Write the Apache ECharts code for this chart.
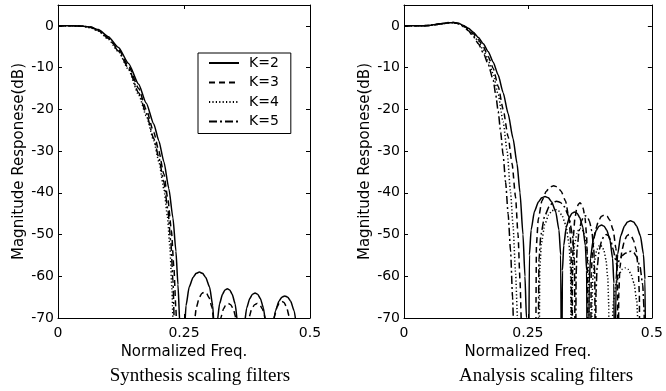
<!DOCTYPE html>
<html>
<head>
<meta charset="utf-8">
<script src="https://cdn.jsdelivr.net/npm/echarts@6/dist/echarts.min.js"></script>
<style>
html, body { margin: 0; padding: 0; background: #fff; }
#chart { width: 666px; height: 391px; }
</style>
</head>
<body>
<div id="chart"></div>
<script>
// 图例名称
var names = ['K=2', 'K=3', 'K=4', 'K=5'];
var xTicks = [0, 0.25, 0.5];

// 左图 Synthesis scaling filters, [频率, dB]
var synK2 = [[0,0],[0.03,0],[0.05,-0.1],[0.065,-0.3],[0.08,-0.9],[0.1,-2.6],[0.12,-5.2],[0.14,-9],[0.16,-14],[0.175,-18.5],[0.19,-23.5],[0.2,-27.5],[0.21,-32.5],[0.22,-39],[0.228,-46],[0.234,-54],[0.238,-62],[0.242,-72],[0.249,-90],
    [0.2509,-73],[0.254,-67],[0.2603,-62.6],[0.2679,-60.3],[0.2742,-59.3],[0.2805,-59],[0.2868,-59.3],[0.2931,-60.3],[0.3007,-62.6],[0.307,-67],[0.3101,-73],[0.312,-90],
    [0.3134,-77],[0.3158,-71],[0.3206,-66.6],[0.3264,-64.3],[0.3312,-63.3],[0.336,-63],[0.3408,-63.3],[0.3456,-64.3],[0.3514,-66.6],[0.3562,-71],[0.3586,-77],[0.36,-90],
    [0.365,-90],[0.3666,-78],[0.3692,-72],[0.3744,-67.6],[0.3806,-65.3],[0.3858,-64.3],[0.391,-64],[0.3962,-64.3],[0.4014,-65.3],[0.4076,-67.6],[0.4128,-72],[0.4154,-78],[0.417,-90],
    [0.421,-90],[0.4227,-78.7],[0.4256,-72.7],[0.4314,-68.3],[0.4384,-66],[0.4442,-65],[0.45,-64.7],[0.4558,-65],[0.4616,-66],[0.4686,-68.3],[0.4744,-72.7],[0.4773,-78.7],[0.479,-90],[0.5,-90]];
var synK3 = [[0,0],[0.03,0],[0.05,-0.1],[0.065,-0.4],[0.08,-1.1],[0.1,-2.9],[0.12,-5.6],[0.14,-9.6],[0.16,-15],[0.175,-20],[0.19,-25.5],[0.2,-30],[0.21,-35.5],[0.218,-41.5],[0.225,-49],[0.23,-58],[0.234,-68],[0.237,-80],[0.24,-90],
    [0.266,-90],[0.2674,-77.8],[0.2698,-71.8],[0.2746,-67.4],[0.2804,-65.1],[0.2852,-64.1],[0.29,-63.8],[0.2948,-64.1],[0.2996,-65.1],[0.3054,-67.4],[0.3102,-71.8],[0.3126,-77.8],[0.314,-90],
    [0.3154,-80.5],[0.3178,-74.5],[0.3226,-70.1],[0.3284,-67.8],[0.3332,-66.8],[0.338,-66.5],[0.3428,-66.8],[0.3476,-67.8],[0.3534,-70.1],[0.3582,-74.5],[0.3606,-80.5],[0.362,-90],
    [0.369,-90],[0.3706,-80.5],[0.3732,-74.5],[0.3784,-70.1],[0.3846,-67.8],[0.3898,-66.8],[0.395,-66.5],[0.4002,-66.8],[0.4054,-67.8],[0.4116,-70.1],[0.4168,-74.5],[0.4194,-80.5],[0.421,-90],
    [0.4224,-80],[0.4247,-74],[0.4293,-69.6],[0.4348,-67.3],[0.4394,-66.3],[0.444,-66],[0.4486,-66.3],[0.4532,-67.3],[0.4587,-69.6],[0.4633,-74],[0.4656,-80],[0.467,-90],[0.5,-90]];
var synK4 = [[0,0],[0.03,0],[0.05,-0.1],[0.065,-0.5],[0.08,-1.3],[0.1,-3.2],[0.12,-6.2],[0.14,-10.5],[0.16,-16.5],[0.175,-21.5],[0.19,-27.5],[0.2,-32.5],[0.21,-39],[0.217,-45.5],[0.222,-53],[0.226,-63],[0.229,-74],[0.232,-90],[0.5,-90]];
var synK5 = [[0,0],[0.03,0],[0.05,-0.1],[0.065,-0.3],[0.08,-1.1],[0.1,-3],[0.12,-6],[0.14,-10.2],[0.16,-16],[0.175,-21],[0.19,-27],[0.2,-31.5],[0.21,-37.5],[0.218,-44],[0.224,-52],[0.228,-61],[0.231,-72],[0.234,-90],[0.5,-90]];

// 右图 Analysis scaling filters
var anaK2 = [[0,0],[0.03,0],[0.05,0.1],[0.07,0.4],[0.09,0.75],[0.1,0.8],[0.11,0.6],[0.12,0.1],[0.13,-0.6],[0.14,-1.5],[0.15,-2.8],[0.16,-4.3],[0.17,-6.2],[0.18,-8.7],[0.19,-11.8],[0.2,-16],[0.21,-21],[0.22,-27],[0.228,-33],[0.234,-40],[0.24,-50],[0.244,-60],[0.247,-70],[0.251,-90],
    [0.253,-54.9],[0.2564,-48.9],[0.2631,-44.5],[0.2711,-42.2],[0.2778,-41.2],[0.2845,-40.9],[0.2912,-41.2],[0.2979,-42.2],[0.3059,-44.5],[0.3126,-48.9],[0.316,-54.9],[0.318,-90],
    [0.3196,-58.6],[0.3222,-52.6],[0.3274,-48.2],[0.3336,-45.9],[0.3388,-44.9],[0.344,-44.6],[0.3492,-44.9],[0.3544,-45.9],[0.3606,-48.2],[0.3658,-52.6],[0.3684,-58.6],[0.37,-90],
    [0.372,-90],[0.3736,-61.7],[0.3762,-55.7],[0.3815,-51.3],[0.3879,-49],[0.3932,-48],[0.3985,-47.7],[0.4038,-48],[0.4091,-49],[0.4155,-51.3],[0.4208,-55.7],[0.4234,-61.7],[0.425,-90],
    [0.426,-90],[0.4279,-60.7],[0.431,-54.7],[0.4372,-50.3],[0.4446,-48],[0.4508,-47],[0.457,-46.7],[0.4632,-47],[0.4694,-48],[0.4768,-50.3],[0.483,-54.7],[0.4861,-60.7],[0.488,-90],[0.5,-90]];
var anaK3 = [[0,0],[0.03,0],[0.05,0.1],[0.07,0.4],[0.09,0.75],[0.1,0.8],[0.11,0.55],[0.12,0],[0.13,-0.8],[0.14,-1.9],[0.15,-3.3],[0.16,-5],[0.17,-7.4],[0.18,-10.2],[0.19,-14.5],[0.2,-20],[0.21,-26.5],[0.218,-33],[0.225,-41],[0.23,-50],[0.234,-61],[0.237,-72],[0.24,-90],
    [0.265,-90],[0.2672,-52.3],[0.2709,-46.3],[0.2783,-41.9],[0.2872,-39.6],[0.2946,-38.6],[0.302,-38.3],[0.3094,-38.6],[0.3168,-39.6],[0.3257,-41.9],[0.3331,-46.3],[0.3368,-52.3],[0.339,-90],
    [0.34,-56.4],[0.3416,-50.4],[0.3448,-46],[0.3486,-43.7],[0.3518,-42.7],[0.355,-42.4],[0.3582,-42.7],[0.3614,-43.7],[0.3652,-46],[0.3684,-50.4],[0.37,-56.4],[0.371,-90],
    [0.376,-90],[0.3777,-59.3],[0.3805,-53.3],[0.3861,-48.9],[0.3928,-46.6],[0.3984,-45.6],[0.404,-45.3],[0.4096,-45.6],[0.4152,-46.6],[0.4219,-48.9],[0.4275,-53.3],[0.4303,-59.3],[0.432,-90],
    [0.4333,-64],[0.4355,-58],[0.4399,-53.6],[0.4452,-51.3],[0.4496,-50.3],[0.454,-50],[0.4584,-50.3],[0.4628,-51.3],[0.4681,-53.6],[0.4725,-58],[0.4747,-64],[0.476,-90],[0.5,-90]];
var anaK4 = [[0,0],[0.03,0],[0.05,0.1],[0.07,0.4],[0.09,0.7],[0.1,0.75],[0.11,0.5],[0.12,-0.1],[0.13,-1],[0.14,-2.2],[0.15,-3.8],[0.16,-5.8],[0.17,-8.4],[0.18,-11.5],[0.19,-16.5],[0.2,-23],[0.208,-30],[0.215,-40],[0.22,-48],[0.225,-59],[0.229,-70],[0.232,-85],[0.234,-90],
    [0.272,-90],[0.274,-58],[0.2773,-52],[0.2839,-47.6],[0.2918,-45.3],[0.2984,-44.3],[0.305,-44],[0.3116,-44.3],[0.3182,-45.3],[0.3261,-47.6],[0.3327,-52],[0.336,-58],[0.338,-90],
    [0.3391,-62.5],[0.3409,-56.5],[0.3445,-52.1],[0.3488,-49.8],[0.3524,-48.8],[0.356,-48.5],[0.3596,-48.8],[0.3632,-49.8],[0.3675,-52.1],[0.3711,-56.5],[0.3729,-62.5],[0.374,-90],
    [0.378,-90],[0.3791,-66.5],[0.3809,-60.5],[0.3845,-56.1],[0.3888,-53.8],[0.3924,-52.8],[0.396,-52.5],[0.3996,-52.8],[0.4032,-53.8],[0.4075,-56.1],[0.4111,-60.5],[0.4129,-66.5],[0.414,-90],
    [0.418,-90],[0.4197,-72],[0.4225,-66],[0.4281,-61.6],[0.4348,-59.3],[0.4404,-58.3],[0.446,-58],[0.4516,-58.3],[0.4572,-59.3],[0.4639,-61.6],[0.4695,-66],[0.4723,-72],[0.474,-90],[0.5,-90]];
var anaK5 = [[0,0],[0.03,0],[0.05,0.1],[0.07,0.5],[0.09,0.8],[0.1,0.8],[0.11,0.5],[0.12,-0.2],[0.13,-1.2],[0.14,-2.6],[0.15,-4.3],[0.16,-6.5],[0.17,-9.3],[0.18,-13],[0.185,-16.5],[0.19,-20.5],[0.195,-25.5],[0.2,-31],[0.205,-37.5],[0.21,-45],[0.215,-54],[0.219,-65],[0.222,-76],[0.225,-90],
    [0.27,-90],[0.2723,-56],[0.2761,-50],[0.2837,-45.6],[0.2928,-43.3],[0.3004,-42.3],[0.308,-42],[0.3156,-42.3],[0.3232,-43.3],[0.3323,-45.6],[0.3399,-50],[0.3437,-56],[0.346,-90],
    [0.3472,-59.5],[0.3492,-53.5],[0.3532,-49.1],[0.358,-46.8],[0.362,-45.8],[0.366,-45.5],[0.37,-45.8],[0.374,-46.8],[0.3788,-49.1],[0.3828,-53.5],[0.3848,-59.5],[0.386,-90],
    [0.3873,-64],[0.3895,-58],[0.3939,-53.6],[0.3992,-51.3],[0.4036,-50.3],[0.408,-50],[0.4124,-50.3],[0.4168,-51.3],[0.4221,-53.6],[0.4265,-56],[0.4287,-57],[0.43,-58],
    [0.4317,-57],[0.4345,-56],[0.4401,-55],[0.4468,-54.5],[0.4524,-54.1],[0.458,-54],[0.4636,-54.3],[0.4692,-55.3],[0.4759,-57.6],[0.4815,-62],[0.4843,-68],[0.486,-90],[0.5,-90]];

var dashes = ['solid', [6, 4], [1.2, 2.2], [8, 3, 2, 3]];
var synData = [synK2, synK3, synK4, synK5];
var anaData = [anaK2, anaK3, anaK4, anaK5];

var chart = echarts.init(document.getElementById('chart'));

var fontFam = '"DejaVu Sans", sans-serif';
var serifFam = '"Liberation Serif", "Times New Roman", serif';

function xAxes(gi) {
    return [{
        gridIndex: gi, type: 'value', min: 0, max: 0.5, interval: 0.25,
        position: 'bottom',
        name: 'Normalized Freq.', nameLocation: 'middle', nameGap: 27,
        nameTextStyle: { color: '#000', fontSize: 15, fontFamily: fontFam },
        axisLine: { show: true, onZero: false, lineStyle: { color: '#000', width: 1 } },
        axisTick: { show: true, inside: true, length: 4, lineStyle: { color: '#000' } },
        axisLabel: { color: '#000', fontSize: 14, fontFamily: fontFam, margin: 8 },
        splitLine: { show: false }
    }, {
        gridIndex: gi, type: 'value', min: 0, max: 0.5, interval: 0.25,
        position: 'top',
        axisLine: { show: true, onZero: false, lineStyle: { color: '#000', width: 1 } },
        axisTick: { show: true, inside: true, length: 4, lineStyle: { color: '#000' } },
        axisLabel: { show: false },
        splitLine: { show: false }
    }];
}
function yAxes(gi) {
    return [{
        gridIndex: gi, type: 'value', min: -70, max: 5, interval: 10,
        position: 'left',
        name: 'Magnitude Responese(dB)', nameLocation: 'middle', nameGap: 31, nameRotate: 90,
        nameTextStyle: { color: '#000', fontSize: 15, fontFamily: fontFam },
        axisLine: { show: true, onZero: false, lineStyle: { color: '#000', width: 1 } },
        axisTick: { show: true, inside: true, length: 4, lineStyle: { color: '#000' } },
        axisLabel: { color: '#000', fontSize: 14, fontFamily: fontFam, margin: 4, showMaxLabel: false,
            formatter: function(v) { return v > 0 ? '' : String(v); } },
        splitLine: { show: false }
    }, {
        gridIndex: gi, type: 'value', min: -70, max: 5, interval: 10,
        position: 'right',
        axisLine: { show: true, onZero: false, lineStyle: { color: '#000', width: 1 } },
        axisTick: { show: true, inside: true, length: 4, lineStyle: { color: '#000' } },
        axisLabel: { show: false },
        splitLine: { show: false }
    }];
}

var series = [];
for (var i = 0; i < 4; i++) {
    series.push({
        name: names[i], type: 'line', xAxisIndex: 0, yAxisIndex: 0, color: '#000',
        data: synData[i], showSymbol: false, symbol: 'none', smooth: 0.2, smoothMonotone: 'x',
        clip: true, animation: false,
        lineStyle: { color: '#000', width: 1.5, type: dashes[i] }
    });
    series.push({
        name: names[i], type: 'line', xAxisIndex: 2, yAxisIndex: 2, color: '#000',
        data: anaData[i], showSymbol: false, symbol: 'none', smooth: 0.2, smoothMonotone: 'x',
        clip: true, animation: false,
        lineStyle: { color: '#000', width: 1.5, type: dashes[i] }
    });
}

var option = {
    backgroundColor: '#fff',
    animation: false,
    grid: [
        { left: 58, top: 5, width: 252, height: 313 },
        { left: 404, top: 5, width: 252, height: 313 }
    ],
    xAxis: xAxes(0).concat(xAxes(1)),
    yAxis: yAxes(0).concat(yAxes(1)),
    legend: {
        data: names, orient: 'vertical', left: 198, top: 53,
        backgroundColor: '#fff', borderColor: '#000', borderWidth: 1,
        padding: [3, 12, 5, 10], itemWidth: 30, itemHeight: 14, itemGap: 5.5,
        itemStyle: { opacity: 0 },
        textStyle: { color: '#000', fontSize: 14, fontFamily: fontFam, padding: [0, 0, 0, 5] },
        selectedMode: false
    },
    graphic: [{
        type: 'text', x: 200, y: 376,
        style: { text: 'Synthesis scaling filters', fill: '#000', font: '19px ' + serifFam,
            textAlign: 'center', textVerticalAlign: 'middle' }
    }, {
        type: 'text', x: 546, y: 376,
        style: { text: 'Analysis scaling filters', fill: '#000', font: '19px ' + serifFam,
            textAlign: 'center', textVerticalAlign: 'middle' }
    }],
    series: series
};
chart.setOption(option);
</script>
</body>
</html>
